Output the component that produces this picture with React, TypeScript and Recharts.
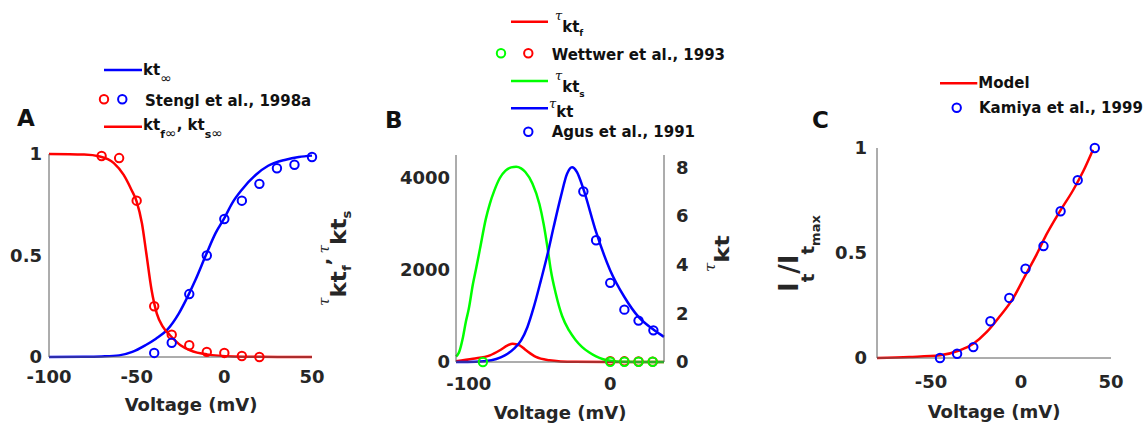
import React from "react";
import { ComposedChart, Line, Scatter, XAxis, YAxis } from "recharts";

const RED = "#ff0000";
const BLUE = "#0000ff";
const GREEN = "#00ff00";
const AXIS = "#5a5a5a";
const INK = "#262626";
const FONT = "DejaVu Sans, Verdana, sans-serif";
const SERIF = "DejaVu Serif, serif";

// ---- panel A: steady state ----
const A_X_TICKS = [-100, -50, 0, 50];
const A_Y_TICKS = [0, 0.5, 1];
const A_KT_V = [-100, -80, -70, -60, -52.5, -45, -39, -32.5, -26, -20.5, -16.5, -10.5, -5, 0, 4.5, 10, 18, 25, 35, 42.5, 50];
const A_KT_Y = [0, 0.001, 0.003, 0.008, 0.025, 0.058, 0.09, 0.135, 0.214, 0.305, 0.379, 0.502, 0.61, 0.684, 0.758, 0.824, 0.898, 0.942, 0.972, 0.985, 0.992];
const A_KTF_V = [-100, -80, -71, -63, -57.5, -53, -50, -47, -44.5, -41.5, -38.5, -35, -31, -25, -19.5, -10, 5, 20, 50];
const A_KTF_Y = [1, 0.997, 0.988, 0.955, 0.898, 0.824, 0.766, 0.659, 0.511, 0.33, 0.214, 0.148, 0.107, 0.058, 0.033, 0.013, 0.003, 0.001, 0];
const A_STENGL_INACT_V = [-70, -60, -50, -40, -30, -20, -10, 0, 10, 20];
const A_STENGL_INACT_Y = [0.99, 0.98, 0.77, 0.25, 0.11, 0.058, 0.025, 0.02, 0.005, 0];
const A_STENGL_ACT_V = [-40, -30, -20, -10, 0, 10, 20, 30, 40, 50];
const A_STENGL_ACT_Y = [0.02, 0.07, 0.31, 0.5, 0.68, 0.77, 0.853, 0.93, 0.947, 0.985];

// ---- panel B: time constants ----
const B_X_TICKS = [-100, 0];
const B_L_TICKS = [0, 2000, 4000];
const B_R_TICKS = [0, 2, 4, 6, 8];
const B_TAUF_V = [-109, -97, -85, -78, -72.5, -69, -64, -59.5, -52.5, -43, -35, -25, 0, 38];
const B_TAUF_Y = [15, 70, 145, 255, 360, 398, 362, 255, 110, 36, 12, 3, 0, 0];
const B_TAUS_V = [-109, -107, -104, -102, -100, -97, -95, -92, -88, -85, -82, -78, -74, -70, -66.5, -63, -60, -55, -50, -47, -44, -42, -38.5, -34, -29, -24.5, -20, -15, -10, -5, 0, 5, 10, 20, 38];
const B_TAUS_Y = [120, 200, 550, 880, 1150, 1700, 2000, 2470, 3100, 3450, 3720, 4000, 4160, 4230, 4245, 4210, 4130, 3880, 3430, 2990, 2420, 2000, 1490, 1000, 680, 480, 330, 210, 120, 60, 25, 10, 4, 1, 0];
const B_TAU_V = [-109, -95, -84, -77, -72.5, -68, -63, -58.5, -54, -49, -44.5, -40, -35, -30.5, -27, -23.5, -19, -10, 0, 10, 20, 30.5, 38];
const B_TAU_Y = [0, 0.01, 0.07, 0.2, 0.34, 0.55, 0.89, 1.44, 2.26, 3.35, 4.38, 5.54, 6.77, 7.73, 8.0, 7.8, 7.11, 5.34, 3.76, 2.67, 1.85, 1.33, 1.03];
const B_WETF_V = [0, 10, 20, 30];
const B_WETF_Y = [20, 15, 10, 8];
const B_WETS_V = [-90, 0, 10, 20, 30];
const B_WETS_Y = [0, 5, 5, 5, 5];
const B_AGUS_V = [-19, -10, 0, 10, 20, 30.5];
const B_AGUS_Y = [7.0, 5.0, 3.25, 2.15, 1.7, 1.3];

// ---- panel C: normalised current ----
const C_X_TICKS = [-50, 0, 50];
const C_Y_TICKS = [0, 0.5, 1];
const C_MODEL_V = [-80, -62, -45, -34, -26.5, -19, -12, -4.5, 3, 8.5, 14, 21.5, 29, 34.5, 40];
const C_MODEL_Y = [0, 0.005, 0.013, 0.037, 0.068, 0.124, 0.196, 0.283, 0.403, 0.49, 0.586, 0.697, 0.8, 0.888, 0.992];
const C_KAMIYA_V = [-45, -35.5, -26.5, -17, -6.5, 2.5, 12.5, 22, 31.5, 41];
const C_KAMIYA_Y = [0, 0.02, 0.052, 0.175, 0.286, 0.425, 0.533, 0.699, 0.847, 1.0];

const pts = (v: number[], y: number[]) => v.map((x, i) => ({ v: x, y: y[i] }));

const ring = (color: string) => (p: any) => (
  <circle cx={p.cx} cy={p.cy} r={4.2} fill="none" stroke={color} strokeWidth={2} />
);

const tick = { fontFamily: FONT, fontWeight: 700, fontSize: 18, fill: INK };
const axisLine = { stroke: AXIS, strokeWidth: 1 };
const W = 1145;
const H = 423;

const layer: React.CSSProperties = { position: "absolute", left: 0, top: 0 };

const PanelA = () => (
  <div style={layer}>
    <ComposedChart width={W} height={H} margin={{ top: 154, right: 833, bottom: 26, left: 9 }}>
      <XAxis type="number" dataKey="v" domain={[-100, 50]} ticks={A_X_TICKS} interval={0}
        tick={tick} tickLine={false} axisLine={axisLine} tickMargin={7} height={40} />
      <YAxis type="number" dataKey="y" domain={[0, 1]} ticks={A_Y_TICKS} interval={0}
        tick={tick} tickLine={false} axisLine={axisLine} tickMargin={1} width={40} />
      <Line data={pts(A_KT_V, A_KT_Y)} dataKey="y" type="monotone" stroke={BLUE} strokeWidth={2.5} dot={false} isAnimationActive={false} />
      <Scatter data={pts(A_STENGL_INACT_V, A_STENGL_INACT_Y)} dataKey="y" shape={ring(RED)} isAnimationActive={false} />
      <Scatter data={pts(A_STENGL_ACT_V, A_STENGL_ACT_Y)} dataKey="y" shape={ring(BLUE)} isAnimationActive={false} />
      <Line data={pts(A_KTF_V, A_KTF_Y)} dataKey="y" type="monotone" stroke={RED} strokeWidth={2.5} dot={false} isAnimationActive={false} />
    </ComposedChart>
  </div>
);

const PanelB = () => (
  <div style={layer}>
    <ComposedChart width={W} height={H} margin={{ top: 155, right: 441, bottom: 21, left: 416 }}>
      <XAxis type="number" dataKey="v" domain={[-109, 38]} ticks={B_X_TICKS} interval={0}
        tick={tick} tickLine={false} axisLine={axisLine} tickMargin={9} height={40} />
      <YAxis yAxisId="L" type="number" dataKey="y" domain={[0, 4500]} ticks={B_L_TICKS} interval={0}
        tick={tick} tickLine={false} axisLine={axisLine} tickMargin={0} width={40} />
      <YAxis yAxisId="R" orientation="right" type="number" dataKey="y" domain={[0, 8.5]} ticks={B_R_TICKS} interval={0}
        tick={tick} tickLine={false} axisLine={axisLine} tickMargin={6} width={40} />
      <Line yAxisId="L" data={pts(B_TAUF_V, B_TAUF_Y)} dataKey="y" type="monotone" stroke={RED} strokeWidth={2.5} dot={false} isAnimationActive={false} />
      <Scatter yAxisId="L" data={pts(B_WETF_V, B_WETF_Y)} dataKey="y" shape={ring(RED)} isAnimationActive={false} />
      <Scatter yAxisId="L" data={pts(B_WETS_V, B_WETS_Y)} dataKey="y" shape={ring(GREEN)} isAnimationActive={false} />
      <Line yAxisId="L" data={pts(B_TAUS_V, B_TAUS_Y)} dataKey="y" type="monotone" stroke={GREEN} strokeWidth={2.5} dot={false} isAnimationActive={false} />
      <Line yAxisId="R" data={pts(B_TAU_V, B_TAU_Y)} dataKey="y" type="monotone" stroke={BLUE} strokeWidth={2.5} dot={false} isAnimationActive={false} />
      <Scatter yAxisId="R" data={pts(B_AGUS_V, B_AGUS_Y)} dataKey="y" shape={ring(BLUE)} isAnimationActive={false} />
    </ComposedChart>
  </div>
);

const PanelC = () => (
  <div style={layer}>
    <ComposedChart width={W} height={H} margin={{ top: 148, right: 34, bottom: 25, left: 837 }}>
      <XAxis type="number" dataKey="v" domain={[-80, 50]} ticks={C_X_TICKS} interval={0}
        tick={tick} tickLine={false} axisLine={axisLine} tickMargin={11} height={40} />
      <YAxis type="number" dataKey="y" domain={[0, 1]} ticks={C_Y_TICKS} interval={0}
        tick={tick} tickLine={false} axisLine={axisLine} tickMargin={4} width={40} />
      <Line data={pts(C_MODEL_V, C_MODEL_Y)} dataKey="y" type="monotone" stroke={RED} strokeWidth={2.5} dot={false} isAnimationActive={false} />
      <Scatter data={pts(C_KAMIYA_V, C_KAMIYA_Y)} dataKey="y" shape={ring(BLUE)} isAnimationActive={false} />
    </ComposedChart>
  </div>
);

const Tau = ({ size = 13, dx = 0 }: { size?: number; dx?: number }) => (
  <tspan dx={dx} fontFamily={SERIF} fontStyle="italic" fontWeight={400} fontSize={size}>τ</tspan>
);

// legends, panel letters and axis titles
const Labels = () => (
  <svg width={W} height={H} style={layer} fontFamily={FONT} fill="#111">
    <text x={17} y={126} fontSize={23} fontWeight={700}>A</text>
    <text x={385} y={128} fontSize={23} fontWeight={700}>B</text>
    <text x={812} y={128} fontSize={23} fontWeight={700}>C</text>

    <text x={191} y={411} textAnchor="middle" fontSize={18} fontWeight={700} fill={INK}>Voltage (mV)</text>
    <text x={560} y={419} textAnchor="middle" fontSize={18} fontWeight={700} fill={INK}>Voltage (mV)</text>
    <text x={994} y={418} textAnchor="middle" fontSize={18} fontWeight={700} fill={INK}>Voltage (mV)</text>

    {/* B left axis title */}
    <text transform="translate(329,306) rotate(-90) scale(1.1,1)" fill={INK} fontWeight={700}>
      <Tau size={14} />
      <tspan dy={17} fontSize={21}>kt</tspan>
      <tspan dy={5} fontSize={12}>f</tspan>
      <tspan dy={-22} fontSize={18}>,</tspan>
      <Tau size={14} dx={4} />
      <tspan dy={17} fontSize={21}>kt</tspan>
      <tspan dy={5} fontSize={12}>s</tspan>
    </text>
    {/* B right axis title */}
    <text transform="translate(715,272) rotate(-90) scale(1.2,1)" fill={INK} fontWeight={700}>
      <Tau size={14} />
      <tspan dy={14} fontSize={20}>kt</tspan>
    </text>
    {/* C axis title */}
    <text transform="translate(798,292) rotate(-90)" fill={INK} fontWeight={700}>
      <tspan fontSize={26}>I</tspan>
      <tspan dy={16} fontSize={18}>t</tspan>
      <tspan dy={-16} fontSize={26}>/</tspan>
      <tspan fontSize={26}>I</tspan>
      <tspan dy={16} fontSize={18}>t</tspan>
      <tspan dy={6} fontSize={13}>max</tspan>
    </text>

    {/* legend A */}
    <line x1={104} x2={142} y1={70} y2={70} stroke={BLUE} strokeWidth={2.5} />
    <text x={143} y={74.5} fontSize={15} fontWeight={700}>
      kt<tspan dy={8} fontSize={14} fontWeight={400}>∞</tspan>
    </text>
    <circle cx={104} cy={99.3} r={4.2} fill="none" stroke={RED} strokeWidth={2} />
    <circle cx={122.3} cy={99.3} r={4.2} fill="none" stroke={BLUE} strokeWidth={2} />
    <text x={145} y={105.7} fontSize={15} fontWeight={700}>Stengl et al., 1998a</text>
    <line x1={104} x2={142} y1={126.7} y2={126.7} stroke={RED} strokeWidth={2.5} />
    <text x={143} y={130} fontSize={15} fontWeight={700}>
      kt<tspan dy={8} fontSize={11}>f</tspan>
      <tspan fontSize={14} fontWeight={400}>∞</tspan>
      <tspan dy={-8}>, kt</tspan>
      <tspan dy={8} fontSize={11}>s</tspan>
      <tspan fontSize={14} fontWeight={400}>∞</tspan>
    </text>

    {/* legend B */}
    <line x1={511} x2={548} y1={21.7} y2={21.7} stroke={RED} strokeWidth={2.5} />
    <text x={555} y={20} fontWeight={700}>
      <Tau />
      <tspan dy={12} fontSize={15}>kt</tspan>
      <tspan dy={3.5} fontSize={9}>f</tspan>
    </text>
    <circle cx={501} cy={53.3} r={4.2} fill="none" stroke={GREEN} strokeWidth={2} />
    <circle cx={528.3} cy={53.3} r={4.2} fill="none" stroke={RED} strokeWidth={2} />
    <text x={551.7} y={60} fontSize={15} fontWeight={700}>Wettwer et al., 1993</text>
    <line x1={511} x2={548} y1={81} y2={81} stroke={GREEN} strokeWidth={2.5} />
    <text x={555} y={80} fontWeight={700}>
      <Tau />
      <tspan dy={11.7} fontSize={15}>kt</tspan>
      <tspan dy={5} fontSize={9}>s</tspan>
    </text>
    <line x1={511} x2={548} y1={108.3} y2={108.3} stroke={BLUE} strokeWidth={2.5} />
    <text x={549} y={108.3} fontWeight={700}>
      <Tau />
      <tspan dy={8.4} fontSize={15}>kt</tspan>
    </text>
    <circle cx={528.3} cy={131.7} r={4.2} fill="none" stroke={BLUE} strokeWidth={2} />
    <text x={551.7} y={136.7} fontSize={15} fontWeight={700}>Agus et al., 1991</text>

    {/* legend C */}
    <line x1={940} x2={977.3} y1={83.3} y2={83.3} stroke={RED} strokeWidth={2.5} />
    <text x={978.3} y={88.3} fontSize={15} fontWeight={700}>Model</text>
    <circle cx={956.7} cy={107.7} r={4.2} fill="none" stroke={BLUE} strokeWidth={2} />
    <text x={979} y={113.3} fontSize={15} fontWeight={700}>Kamiya et al., 1999</text>
  </svg>
);

export default function App() {
  return (
    <div style={{ position: "absolute", left: 0, top: 0, width: W, height: H, background: "#fff", overflow: "hidden" }}>
      <PanelA />
      <PanelB />
      <PanelC />
      <Labels />
    </div>
  );
}
